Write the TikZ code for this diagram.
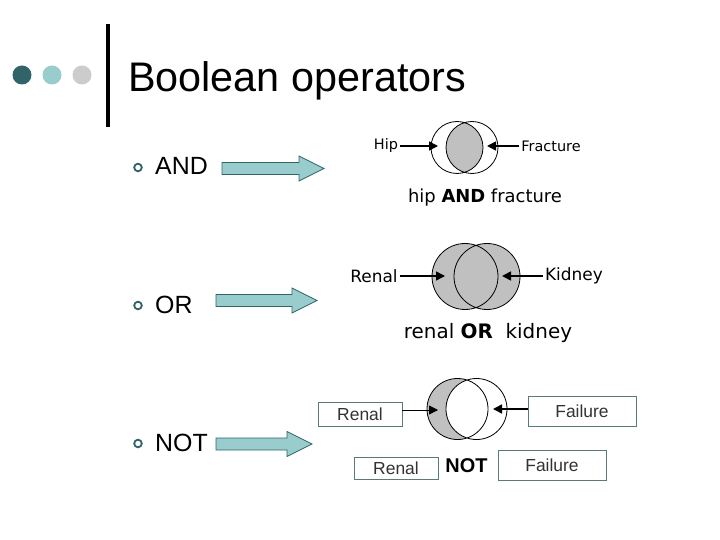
\documentclass[tikz,border=0pt]{standalone}
\usepackage{fontspec}
\setmainfont{Liberation Sans}
\newfontfamily\winfont{DejaVu Sans}
\usepackage{tikz}
\usetikzlibrary{arrows.meta}
\usepackage{xcolor}
\definecolor{SlideTeal}{HTML}{316468}
\definecolor{SlideAqua}{HTML}{99CCCC}
\definecolor{SlideGray}{HTML}{CCCCCC}
\definecolor{VennGray}{HTML}{C0C0C0}
\definecolor{BoxEdge}{HTML}{5A7A7A}
\definecolor{BoxText}{HTML}{333333}

\begin{document}
\begin{tikzpicture}[x=1bp,y=-1bp,
   bullet/.style={draw=SlideTeal,line width=1.8bp},
   item/.style={anchor=base west,inner sep=0pt,font=\fontsize{25}{28}\selectfont},
   blockarrow/.style={draw=SlideTeal,fill=SlideAqua,line width=0.8bp},
   venn/.style={draw=black,line width=0.8bp},
   tag/.style={inner sep=2bp,font=\winfont\fontsize{14.5}{16}\selectfont},
   bigtag/.style={inner sep=2bp,font=\winfont\fontsize{17}{19}\selectfont},
   pointer/.style={-{Triangle[length=9bp,width=9bp]},line width=1.6bp},
   textbox/.style={draw=BoxEdge,text=BoxText,line width=0.8bp,inner sep=0pt,font=\fontsize{17.5}{19}\selectfont}]

   \useasboundingbox[fill=white] (0,0) rectangle (720,540);

   \fill[SlideTeal] (22,75) circle[radius=9.5bp];
   \fill[SlideAqua] (52,75) circle[radius=9.5bp];
   \fill[SlideGray] (82,75) circle[radius=9.5bp];
   \draw[line width=3.5bp] (108,24) -- (108,127);
   \node[anchor=base west,inner sep=0pt,font=\fontsize{41.5}{44}\selectfont] (title) at (128,92) {Boolean operators};

   \foreach \yb/\word [count=\i] in {175/AND,313/OR,451/NOT} {
      \draw[bullet] (138,\yb-7.5) circle[radius=3.8bp];
      \node[item] (item\i) at (155,\yb) {\word};
   }
   \foreach \xa/\xb/\yc in {222/324/168.5,216/317/300.5,216/312/444}
      \draw[blockarrow] (\xa,\yc-6) -- (\xb-25,\yc-6) -- (\xb-25,\yc-12.5) -- (\xb,\yc)
         -- (\xb-25,\yc+12.5) -- (\xb-25,\yc+6) -- (\xa,\yc+6) -- cycle;

   \coordinate (hipc) at (457,147.5);
   \coordinate (fracturec) at (472,147.5);
   \begin{scope}
      \clip (hipc) circle[radius=26bp];
      \fill[VennGray] (fracturec) circle[radius=26bp];
   \end{scope}
   \draw[venn] (hipc) circle[radius=26bp] (fracturec) circle[radius=26bp];
   \node[tag] (hip) at (386,146) {Hip};
   \node[tag] (fracture) at (551,146) {Fracture};
   \coordinate (hiptip) at (438,146);
   \coordinate (fracturetip) at (487,146);
   \draw[pointer] (hip) -- (hiptip);
   \draw[pointer] (fracture) -- (fracturetip);
   \node[font=\winfont\fontsize{18}{20}\selectfont] (andcap) at (485,198) {hip \textbf{AND} fracture};

   \coordinate (renalc) at (465,276.5);
   \coordinate (kidneyc) at (487,276.5);
   \fill[VennGray] (renalc) circle[radius=33bp] (kidneyc) circle[radius=33bp];
   \draw[venn] (renalc) circle[radius=33bp] (kidneyc) circle[radius=33bp];
   \node[bigtag] (renal) at (374,276) {Renal};
   \node[bigtag] (kidney) at (574,276) {Kidney};
   \coordinate (renaltip) at (445,276);
   \coordinate (kidneytip) at (502,276);
   \draw[pointer] (renal) -- (renaltip);
   \draw[pointer] (kidney) -- (kidneytip);
   \node[font=\winfont\fontsize{20}{22}\selectfont] (orcap) at (488,333) {renal \textbf{OR}\ \ kidney};

   \coordinate (notlc) at (457.5,409);
   \coordinate (notrc) at (476.5,409);
   \fill[VennGray] (notlc) circle[radius=30.5bp];
   \begin{scope}
      \clip (notlc) circle[radius=30.5bp];
      \fill[white] (notrc) circle[radius=30.5bp];
   \end{scope}
   \draw[venn] (notlc) circle[radius=30.5bp] (notrc) circle[radius=30.5bp];
   \node[textbox,minimum width=84bp,minimum height=24bp] (renalbox) at (360,414) {Renal};
   \node[textbox,minimum width=108bp,minimum height=30bp] (failurebox) at (582,411) {Failure};
   \coordinate (renalboxtip) at (438,410);
   \coordinate (failureboxtip) at (493,409);
   \draw[pointer,line width=0.8bp] (renalbox.east |- renalboxtip) -- (renalboxtip);
   \draw[pointer] (failurebox.west |- failureboxtip) -- (failureboxtip);
   \node[textbox,minimum width=84bp,minimum height=22bp] (renalterm) at (396,468) {Renal};
   \node[font=\bfseries\fontsize{20}{22}\selectfont] (notop) at (466.5,466) {NOT};
   \node[textbox,minimum width=108bp,minimum height=30bp] (failureterm) at (552,465) {Failure};
\end{tikzpicture}
\end{document}
